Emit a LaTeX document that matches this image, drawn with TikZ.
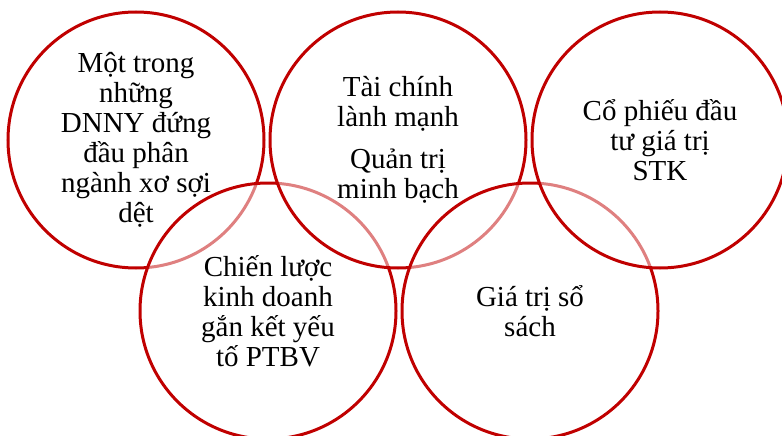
\documentclass[tikz,border=0pt]{standalone}
\usepackage{fontspec}
\setmainfont{Liberation Serif}
\usepackage{xcolor}
\usetikzlibrary{positioning}

\definecolor{ringred}{RGB}{192,0,0}

\begin{document}
\begin{tikzpicture}[
  x=1pt, y=-1pt,
  ring/.style={circle, draw=ringred, line width=3pt, fill=white, fill opacity=0.5,
               minimum size=256pt, inner sep=0pt, outer sep=0pt},
  ringtext/.style={align=center, text=black, font=\fontsize{29}{30}\selectfont},
]

\useasboundingbox (0,0) rectangle (782,436);
\clip (0,0) rectangle (782,436);

% Rings, drawn in interlacing order
\node[ring] (c1) at (136,140) {};
\node[ring] (c4) at (268,311) {};
\node[ring, right=6pt of c1] (c2) {};
\node[ring, right=6pt of c4] (c5) {};
\node[ring, right=6pt of c2] (c3) {};

% Texts
\node[ringtext] (t1) at (c1) {Một trong\\những\\DNNY đứng\\đầu phân\\ngành xơ sợi\\dệt};
\node[ringtext] (t2) at (c2) {Tài chính\\lành mạnh\\[12pt]Quản trị\\minh bạch};
\node[ringtext] (t3) at (c3) {Cổ phiếu đầu\\tư giá trị\\STK};
\node[ringtext] (t4) at (c4) {Chiến lược\\kinh doanh\\gắn kết yếu\\tố PTBV};
\node[ringtext] (t5) at (c5) {Giá trị sổ\\sách};

\end{tikzpicture}
\end{document}
